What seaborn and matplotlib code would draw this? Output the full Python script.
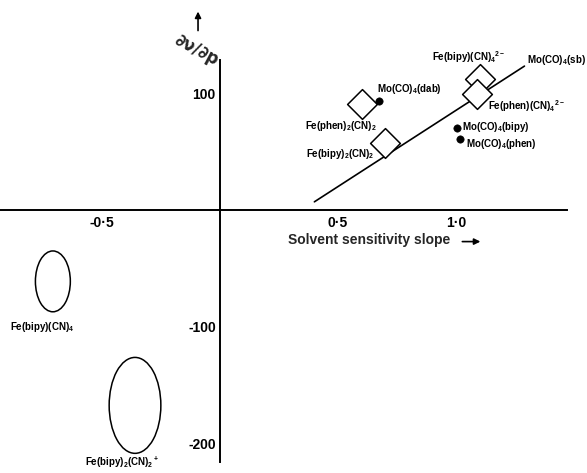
import matplotlib
matplotlib.use("Agg")
import matplotlib.pyplot as plt
from matplotlib.patches import Ellipse
import seaborn as sns

sns.set_theme(style="white")
plt.rcParams['font.family'] = ['Liberation Sans Narrow', 'Liberation Sans', 'DejaVu Sans']
plt.rcParams['mathtext.default'] = 'regular'

# ---- data ----
diamond_names = ["Fe(phen)$_2$(CN)$_2$", "Fe(bipy)$_2$(CN)$_2$",
                 "Fe(bipy)(CN)$_4$$^{2-}$", "Fe(phen)(CN)$_4$$^{2-}$"]
diamond_x = [0.60, 0.70, 1.10, 1.09]
diamond_y = [91, 57, 112, 99]

dot_names = ["Mo(CO)$_4$(dab)", "Mo(CO)$_4$(bipy)", "Mo(CO)$_4$(phen)"]
dot_x = [0.675, 1.005, 1.017]
dot_y = [93, 70, 61]

fit_x = [0.40, 1.29]
fit_y = [7, 123]

ellipse_names = ["Fe(bipy)(CN)$_4$", "Fe(bipy)$_2$(CN)$_2$$^+$"]
ellipse_cx = [-0.708, -0.36]
ellipse_cy = [-61, -167]
ellipse_w = [0.148, 0.219]
ellipse_h = [52, 82]

x_ticks = [-0.5, 0.5, 1.0]
x_ticklabels = ["-0·5", "0·5", "1·0"]
y_ticks = [100, -100, -200]
y_ticklabels = ["100", "-100", "-200"]

# ---- figure ----
fig = plt.figure(figsize=(5.87, 4.73), dpi=100)
ax = fig.add_axes([0, 0, 1, 1])
ax.set_xlim(-0.932, 1.555)
ax.set_ylim(-224.8, 179.5)

sns.lineplot(x=fit_x, y=fit_y, ax=ax, color="black", linewidth=1.2, zorder=1)
sns.scatterplot(x=diamond_x, y=diamond_y, ax=ax, marker="D", s=230,
                facecolor="white", edgecolor="black", linewidth=1.1, zorder=3)
sns.scatterplot(x=dot_x, y=dot_y, ax=ax, marker="o", s=28,
                color="black", edgecolor="black", zorder=3)

for cx, cy, w, h in zip(ellipse_cx, ellipse_cy, ellipse_w, ellipse_h):
    ax.add_patch(Ellipse((cx, cy), w, h, facecolor="none", edgecolor="black", linewidth=1.1))

lab = dict(fontsize=7, fontweight="bold", color="black", zorder=4)
# diamond labels
ax.text(0.665, 72, diamond_names[0], ha="right", va="center", **lab)
ax.text(0.655, 48, diamond_names[1], ha="right", va="center", **lab)
ax.text(0.90, 131, diamond_names[2], ha="left", va="center", **lab)
ax.text(1.135, 89, diamond_names[3], ha="left", va="center", **lab)
# dot labels
ax.text(0.665, 103, dot_names[0], ha="left", va="center", **lab)
ax.text(1.025, 71, dot_names[1], ha="left", va="center", **lab)
ax.text(1.042, 56, dot_names[2], ha="left", va="center", **lab)
ax.text(1.30, 128, "Mo(CO)$_4$(sb)", ha="left", va="center", **lab)
# ellipse labels
ax.text(-0.754, -100, ellipse_names[0], ha="center", va="center", **lab)
ax.text(-0.415, -216, ellipse_names[1], ha="center", va="center", **lab)

# axes through origin
sns.despine(ax=ax, top=True, right=True)
ax.spines['left'].set_position(('data', 0))
ax.spines['bottom'].set_position(('data', 0))
ax.spines['bottom'].set_bounds(-0.932, 1.47)
ax.spines['left'].set_bounds(-215, 128)
for s in ['left', 'bottom']:
    ax.spines[s].set_color("black")
    ax.spines[s].set_linewidth(1.4)
    ax.spines[s].set_zorder(2)

ax.set_xticks(x_ticks)
ax.set_xticklabels(x_ticklabels, fontsize=10, fontweight="bold")
ax.set_yticks(y_ticks)
ax.set_yticklabels(y_ticklabels, fontsize=10, fontweight="bold")
ax.tick_params(axis="x", direction="in", length=5, width=1, pad=4, colors="black")
ax.tick_params(axis="y", direction="in", length=5, width=1, pad=3, colors="black")
ax.grid(False)
ax.set_xlabel("")
ax.set_ylabel("")

# axis labels
ax.text(0.29, -26, "Solvent sensitivity slope", ha="left", va="center",
        fontsize=10, fontweight="bold")
ax.annotate("", xy=(1.115, -27), xytext=(1.015, -27),
            arrowprops=dict(arrowstyle="-|>", color="black", lw=1.2, mutation_scale=9))
ax.text(-0.097, 137, "∂ν/∂p", ha="center", va="center", rotation=-28,
        fontsize=12, fontweight="bold", family=["DejaVu Sans"])
ax.annotate("", xy=(-0.093, 172), xytext=(-0.093, 151),
            arrowprops=dict(arrowstyle="-|>", color="black", lw=1.2, mutation_scale=9))

fig.savefig("out.png", dpi=100, facecolor="white")
